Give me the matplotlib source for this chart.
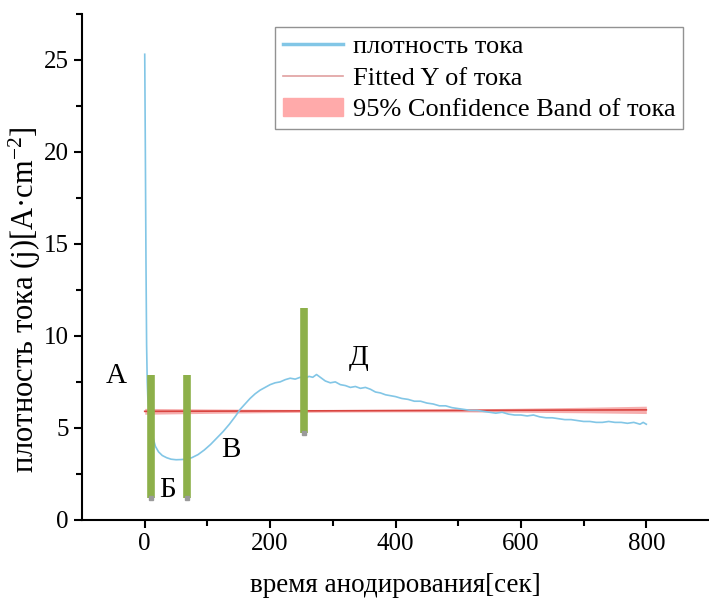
import numpy as np
import matplotlib
matplotlib.use("Agg")
import matplotlib.pyplot as plt
from matplotlib.patches import Patch
from matplotlib.lines import Line2D

plt.rcParams['font.family'] = ['Liberation Serif', 'DejaVu Serif']
plt.rcParams['mathtext.fontset'] = 'custom'
plt.rcParams['mathtext.rm'] = 'Liberation Serif'
plt.rcParams['mathtext.it'] = 'Liberation Serif:italic'

# current density curve
t = [0, 1, 2, 3, 4, 5, 7, 10, 13, 17, 22, 28, 35, 42, 50, 58, 66, 75, 85, 95,
     105, 115, 125, 135, 145, 152, 160, 168, 176, 184, 192, 200, 208, 216, 224, 232,
     240, 248, 256, 262, 268, 274, 280, 288, 296, 304, 312, 320, 328, 336, 344, 352,
     360, 368, 376, 384, 392, 400, 410, 420, 430, 440, 450, 460, 470, 480, 490, 500,
     510, 520, 530, 540, 550, 560, 570, 580, 590, 600, 610, 620, 630, 640, 650, 660,
     670, 680, 690, 700, 710, 720, 730, 740, 750, 760, 770, 780, 790, 795, 800]
j = [25.3, 20.0, 14.0, 9.5, 7.5, 6.6, 5.8, 5.0, 4.5, 4.0, 3.7, 3.5, 3.38, 3.3, 3.27, 3.28,
     3.3, 3.38, 3.55, 3.8, 4.1, 4.45, 4.8, 5.2, 5.65, 6.0, 6.3, 6.6, 6.85, 7.05, 7.2, 7.35,
     7.45, 7.5, 7.62, 7.7, 7.65, 7.75, 7.7, 7.8, 7.75, 7.9, 7.75, 7.55, 7.45, 7.5, 7.35, 7.3,
     7.2, 7.25, 7.15, 7.2, 7.1, 6.95, 6.9, 6.8, 6.75, 6.7, 6.6, 6.55, 6.45, 6.45, 6.35, 6.3,
     6.2, 6.2, 6.1, 6.05, 6.0, 5.95, 5.95, 5.9, 5.85, 5.8, 5.85, 5.75, 5.7, 5.7, 5.65, 5.7,
     5.6, 5.55, 5.55, 5.5, 5.45, 5.45, 5.4, 5.35, 5.35, 5.3, 5.3, 5.35, 5.3, 5.3, 5.25, 5.3,
     5.2, 5.3, 5.2]

# linear fit and its confidence band
fit_t = [0, 100, 200, 300, 400, 500, 600, 700, 800]
fit_j = [5.90, 5.91, 5.92, 5.93, 5.94, 5.95, 5.96, 5.97, 5.98]
band_lo = [5.74, 5.79, 5.83, 5.86, 5.87, 5.87, 5.85, 5.82, 5.78]
band_hi = [6.06, 6.03, 6.01, 6.00, 6.01, 6.03, 6.07, 6.12, 6.18]

# stage markers
bar_t = [10, 67, 254]
bar_lo = [1.2, 1.2, 4.7]
bar_hi = [7.9, 7.9, 11.5]
stage_labels = ['А', 'Б', 'В', 'Д']
stage_x = [-46, 36, 137, 342]
stage_y = [7.8, 1.6, 3.8, 8.8]

fig = plt.figure(figsize=(7.09, 5.99), dpi=100)
ax = fig.add_axes([0.1157, 0.132, 0.8843, 0.845])

blue = '#82c6e6'
ax.fill_between(fit_t, band_lo, band_hi, color='#f5a0a0', lw=0, alpha=0.85)
ax.plot(fit_t, fit_j, color='#d9443f', lw=1.2)
ax.plot(t, j, color=blue, lw=1.2)

ax.vlines(bar_t, bar_lo, bar_hi, color='#8db04a', lw=5.5)
ax.plot(bar_t, bar_lo, 's', color='#9a9a9a', ms=2.5)

for s, x, y in zip(stage_labels, stage_x, stage_y):
    ax.text(x, y, s, fontsize=21, ha='center', va='center')

ax.set_xlim(-100, 900)
ax.set_ylim(0, 27.5)
ax.set_xticks([0, 200, 400, 600, 800])
ax.set_xticks([100, 300, 500, 700], minor=True)
ax.set_yticks([0, 5, 10, 15, 20, 25])
ax.set_yticks([2.5, 7.5, 12.5, 17.5, 22.5, 27.5], minor=True)
ax.tick_params(labelsize=18, width=1.5, length=6)
ax.tick_params(which='minor', width=1.5, length=4)
for s in ['top', 'right']:
    ax.spines[s].set_visible(False)
for s in ['left', 'bottom']:
    ax.spines[s].set_linewidth(1.5)

ax.set_xlabel('время анодирования[сек]', fontsize=19.5)
ax.set_ylabel('плотность тока (j)[A·cm$^{-2}$]', fontsize=22)
ax.xaxis.set_label_coords(0.5, -0.105)
ax.yaxis.set_label_coords(-0.062, 0.435)

handles = [Line2D([], [], color=blue, lw=2.5),
           Line2D([], [], color='#e0a0a0', lw=1.2),
           Patch(facecolor='#ffaaaa', edgecolor='#ffaaaa')]
labels = ['плотность тока', 'Fitted Y of тока', '95% Confidence Band of тока']
leg = fig.legend(handles, labels, loc='upper right', bbox_to_anchor=(0.982, 0.977),
                 fontsize=19, frameon=True, fancybox=False, handlelength=2.3,
                 labelspacing=0.3, borderpad=0.3, handletextpad=0.35)
leg.get_frame().set_edgecolor('#777777')
leg.get_frame().set_linewidth(1.0)

fig.savefig('out.png', dpi=100)
